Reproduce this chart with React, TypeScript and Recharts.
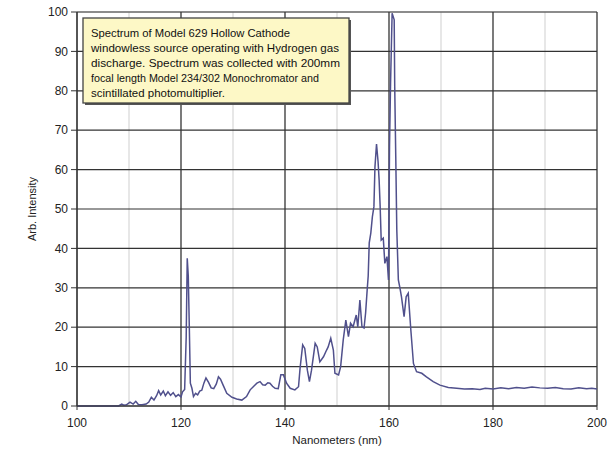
import React from "react";
import { LineChart, Line, XAxis, YAxis, CartesianGrid, Label } from "recharts";

const wavelengths = [
  100, 108, 108.6, 109, 109.5, 110.2, 110.8, 111.3, 111.8, 112.5, 113.3, 113.8, 114.3, 114.8, 115.3, 115.7,
  116.1, 116.6, 117.0, 117.5, 118.0, 118.5, 119.0, 119.5, 120.0, 120.3, 120.7, 121.0, 121.2, 121.4, 121.6,
  121.8, 122.1, 122.4, 122.8, 123.2, 123.6, 124.0, 124.4, 124.8, 125.3, 125.8, 126.3, 126.8, 127.2, 127.6,
  128.1, 128.8, 129.8, 130.7, 131.7, 132.6, 133.3, 133.9, 134.6, 135.2, 135.7, 136.2, 136.7, 137.1, 137.6,
  138.1, 138.7, 139.2, 139.7, 140.3, 141.0, 141.9, 142.6, 142.9, 143.4, 143.8, 144.3, 144.7, 145.1, 145.8,
  146.2, 146.7, 147.4, 148.0, 148.3, 148.8, 149.3, 149.6, 150.3, 150.7, 151.2, 151.7, 152.2, 152.6, 153.1,
  153.7, 154.0, 154.4, 154.8, 155.2, 155.5, 155.8, 156.0, 156.2, 156.5, 156.8, 157.1, 157.3, 157.6, 157.9,
  158.1, 158.3, 158.5, 158.9, 159.2, 159.6, 159.9, 160.1, 160.3, 160.6, 161.0, 161.1, 161.3, 161.5, 161.8,
  162.1, 162.4, 162.9, 163.3, 163.7, 164.2, 164.7, 165.3, 166.3, 167.2, 168.5, 169.8, 171.4, 173.0, 174.5,
  176, 177.5, 178.5, 180, 181.5, 183, 184.5, 186, 187.5, 189, 190.5, 192, 193.5, 195, 196.5, 198, 199, 200,
];

const intensities = [
  0, 0, 0.5, 0.2, 0.3, 1.0, 0.5, 1.2, 0.4, 0.3, 0.5, 1.0, 2.2, 1.5, 2.6, 3.9,
  2.8, 3.8, 2.6, 3.6, 2.7, 3.4, 2.4, 2.9, 2.3, 3.6, 4.2, 17.5, 37.5, 33, 20,
  5.8, 4.5, 2.4, 3.2, 2.8, 3.8, 4.0, 5.8, 7.1, 6.0, 4.6, 4.4, 5.6, 7.4, 6.8,
  5.3, 3.2, 2.2, 1.8, 1.5, 2.4, 4.1, 4.9, 5.8, 6.2, 5.4, 5.3, 5.9, 5.8, 5.0,
  4.5, 4.4, 7.9, 7.9, 5.8, 4.5, 4.1, 4.9, 9.6, 15.5, 14.6, 9.1, 6.2, 9.1, 15.9,
  15.0, 11.2, 12.5, 14.2, 15, 17.2, 14.2, 8.3, 7.9, 10, 16.8, 21.8, 17.6, 21, 20.1,
  23.1, 20.1, 26.9, 20.1, 19.8, 23.6, 29.4, 33, 41.4, 43.9, 48, 50.6, 60.7, 66.5, 62,
  57.4, 50.6, 42.1, 42.6, 36.2, 37.9, 32.0, 65.8, 82, 99.7, 98, 81, 63.3, 44.7, 32,
  30, 27.7, 22.7, 27.7, 28.6, 19.3, 10.8, 8.7, 8.3, 7.4, 6.2, 5.3, 4.7, 4.5, 4.3,
  4.4, 4.2, 4.5, 4.3, 4.6, 4.4, 4.7, 4.5, 4.8, 4.6, 4.5, 4.7, 4.4, 4.3, 4.6, 4.4, 4.5, 4.3,
];

const xTicks = [100, 120, 140, 160, 180, 200];
const xMinorTicks = [100, 105, 110, 115, 120, 125, 130, 135, 140, 145, 150, 155, 160, 165, 170, 175, 180, 185, 190, 195, 200];
const yTicks = [0, 10, 20, 30, 40, 50, 60, 70, 80, 90, 100];
const yMinorTicks = [0, 5, 10, 15, 20, 25, 30, 35, 40, 45, 50, 55, 60, 65, 70, 75, 80, 85, 90, 95, 100];

const noteLines = [
  "Spectrum of Model 629 Hollow Cathode",
  "windowless source operating with Hydrogen gas",
  "discharge. Spectrum was collected with 200mm",
  "focal length Model 234/302 Monochromator and",
  "scintillated photomultiplier.",
];
const noteWidths = [199, 248, 249, 228, 134];

const data = wavelengths.map((nm, i) => ({ nm, v: intensities[i] }));

const FONT = "'Liberation Sans', Arial, sans-serif";

export default function App() {
  return (
    <div style={{ position: "absolute", left: 0, top: 0, width: 612, height: 456, background: "#fff" }}>
      <LineChart width={612} height={456} data={data} margin={{ top: 12, right: 15, bottom: 20, left: 0 }}>
        <XAxis xAxisId="minor" dataKey="nm" type="number" domain={[100, 200]} ticks={xMinorTicks} hide />
        <YAxis yAxisId="minor" type="number" domain={[0, 100]} ticks={yMinorTicks} hide />
        <CartesianGrid xAxisId="minor" yAxisId="minor" stroke="#cfcfcf" strokeWidth={1} />
        <CartesianGrid xAxisId="main" yAxisId="main" stroke="#333" strokeWidth={1.2} />
        <XAxis
          xAxisId="main"
          dataKey="nm"
          type="number"
          domain={[100, 200]}
          ticks={xTicks}
          height={30}
          tickSize={4}
          stroke="#333"
          tick={{ fill: "#222", fontSize: 12, fontFamily: FONT }}
          tickMargin={8}
        >
          <Label value="Nanometers (nm)" position="insideBottom" offset={-8} style={{ fill: "#222", fontSize: 11.5, fontFamily: FONT }} />
        </XAxis>
        <YAxis
          yAxisId="main"
          type="number"
          domain={[0, 100]}
          ticks={yTicks}
          width={77}
          tickSize={6}
          stroke="#333"
          tick={{ fill: "#222", fontSize: 12, fontFamily: FONT }}
          tickMargin={3}
        >
          <Label value="Arb. Intensity" angle={-90} position="insideLeft" offset={32} style={{ fill: "#222", fontSize: 11, fontFamily: FONT, textAnchor: "middle" }} />
        </YAxis>
        <Line
          xAxisId="main"
          yAxisId="main"
          type="linear"
          dataKey="v"
          stroke="#50508c"
          strokeWidth={1.5}
          dot={false}
          isAnimationActive={false}
        />
      </LineChart>
      <svg width={612} height={456} style={{ position: "absolute", left: 0, top: 0, pointerEvents: "none" }}>
        <rect x={85} y={20} width={266} height={85} fill="#555" />
        <rect x={83} y={18} width={266} height={85} fill="#fdf8c6" stroke="#444" strokeWidth={1.3} />
        {noteLines.map((t, i) => (
          <text
            key={i}
            x={91}
            y={37 + i * 15}
            fontSize={10.5}
            fontFamily={FONT}
            fill="#111"
            textLength={noteWidths[i]}
            lengthAdjust="spacingAndGlyphs"
          >
            {t}
          </text>
        ))}
      </svg>
    </div>
  );
}
